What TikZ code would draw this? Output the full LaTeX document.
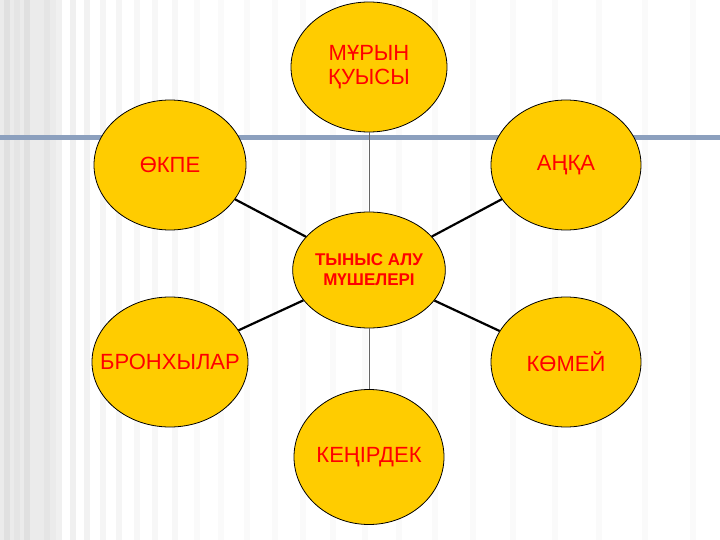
\documentclass[tikz,border=0pt]{standalone}
\usepackage{fontspec}
\setmainfont{Liberation Sans}
\usetikzlibrary{shapes.geometric}
\definecolor{gold}{RGB}{255,204,0}
\definecolor{bar}{RGB}{140,160,190}
\begin{document}
\begin{tikzpicture}[x=1pt,y=-1pt,
  org/.style={ellipse,draw=black,line width=0.8pt,fill=gold,text=red,font=\fontsize{22}{24}\selectfont,align=center,inner sep=0pt},
  link/.style={line width=2.2pt,black},
  vlink/.style={line width=1pt,black!60}]
\useasboundingbox (0,0) rectangle (720,540);
\fill[white] (0,0) rectangle (720,540);
\fill[black!8] (0,0) rectangle (60,540);
\foreach \x/\c in {4/12,14/10,24/12,34/8,44/10,56/6,70/6,84/5,100/4,116/4,134/3,152/3,172/3,194/2,218/2,244/2,272/2,300/2,330/2,362/2,396/2,432/2,470/2,510/2,552/2,596/2,642/2,690/2}
  \fill[black!\c] (\x,0) rectangle ++(6,540);
\fill[bar] (0,135) rectangle (720,140);
\node[org,minimum width=156pt,minimum height=130pt] (top) at (369,67) {МҰРЫН\\ҚУЫСЫ};
\node[org,minimum width=152pt,minimum height=130pt] (okpe) at (170,165) {ӨКПЕ};
\node[org,minimum width=150pt,minimum height=130pt] (anqa) at (566,165) {АҢҚА};
\node[org,minimum width=146pt,minimum height=116pt,font=\bfseries\fontsize{17}{20}\selectfont] (c) at (369,270) {ТЫНЫС АЛУ\\МҮШЕЛЕРІ};
\node[org,minimum width=156pt,minimum height=130pt] (bron) at (170,362) {};
\node[text=red,font=\fontsize{22}{24}\selectfont] (bront) at (170,362) {БРОНХЫЛАР};
\node[org,minimum width=150pt,minimum height=130pt] (kom) at (566,362) {КӨМЕЙ};
\node[org,minimum width=150pt,minimum height=135pt] (ker) at (369,457) {КЕҢІРДЕК};
\draw[vlink] (top) -- (c);
\draw[vlink] (c) -- (ker);
\draw[link] (okpe) -- (c);
\draw[link] (anqa) -- (c);
\draw[link] (bron) -- (c);
\draw[link] (kom) -- (c);
\end{tikzpicture}
\end{document}
